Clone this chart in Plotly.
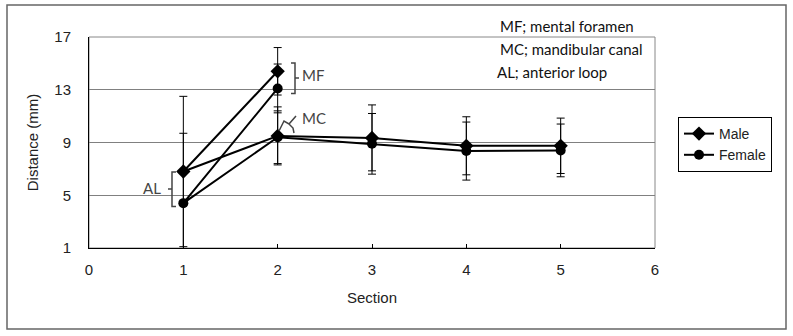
import plotly.graph_objects as go

# ---------------- data ----------------
point_sections = [2, 1, 2, 3, 4, 5]          # polyline order: MF(2) -> AL(1) -> MC(2) -> 3 -> 4 -> 5
point_sites = ["MF", "AL", "MC", "MC", "MC", "MC"]
male_mean = [14.4, 6.8, 9.5, 9.35, 8.75, 8.75]
male_sd = [1.8, 5.7, 2.2, 2.5, 2.2, 2.1]
female_mean = [13.1, 4.4, 9.4, 8.9, 8.35, 8.4]
female_sd = [1.85, 5.3, 2.0, 2.3, 2.2, 2.0]
x_ticks = [0, 1, 2, 3, 4, 5, 6]
y_ticks = [1, 5, 9, 13, 17]
series_names = ["Male", "Female"]
note_lines = ["MF; mental foramen", "MC; mandibular canal", "AL; anterior loop"]

# ---------------- geometry helpers (pixel -> paper) ----------------
W, H = 793, 336
L, R, T, B = 89, 138, 37, 88
PW, PH = W - L - R, H - T - B


def px(x):
    return (x - L) / PW


def py(y):
    return (H - B - y) / PH


def path(points_list):
    s = ""
    for pts in points_list:
        s += "M " + " L ".join(f"{px(a):.5f},{py(b):.5f}" for a, b in pts) + " "
    return s.strip()


AX_FONT = dict(family="Liberation Sans, Arial, sans-serif", size=15, color="#222")
NOTE_FONT = dict(family="Lato, Carlito, sans-serif", size=15, color="#111")
GRAY = "#444"

fig = go.Figure()
fig.add_trace(go.Scatter(
    x=point_sections, y=male_mean, name=series_names[0], mode="lines+markers",
    customdata=point_sites,
    line=dict(color="black", width=2),
    marker=dict(symbol="diamond", size=11, color="black"),
    error_y=dict(type="data", array=male_sd, visible=True, color="black", thickness=1, width=4),
))
fig.add_trace(go.Scatter(
    x=point_sections, y=female_mean, name=series_names[1], mode="lines+markers",
    customdata=point_sites,
    line=dict(color="black", width=2),
    marker=dict(symbol="circle", size=10, color="black"),
    error_y=dict(type="data", array=female_sd, visible=True, color="black", thickness=1, width=4),
))

shapes = [
    # outer chart border
    dict(type="rect", xref="paper", yref="paper", x0=px(7), x1=px(786), y0=py(329), y1=py(5),
         line=dict(color="#666", width=1.5), layer="below"),
    # plot area border
    dict(type="rect", xref="paper", yref="paper", x0=0, x1=1, y0=0, y1=1,
         line=dict(color="#888", width=1), layer="below"),
    # MF bracket
    dict(type="path", xref="paper", yref="paper",
         path=path([[(291, 63), (295, 63), (295, 93.5), (291, 93.5)], [(295, 78), (299, 78)]]),
         line=dict(color=GRAY, width=1.5)),
    # AL bracket
    dict(type="path", xref="paper", yref="paper",
         path=path([[(176, 172), (172, 172), (172, 206.5), (176, 206.5)], [(172, 189), (168, 189)]]),
         line=dict(color=GRAY, width=1.5)),
    # MC brace
    dict(type="path", xref="paper", yref="paper",
         path=path([[(279, 131), (284, 121), (289, 124), (296, 116)], [(289, 124), (293, 128), (294, 133)]]),
         line=dict(color=GRAY, width=1.5)),
]

annotations = [
    dict(text=note_lines[0], x=px(498), y=py(26), xref="paper", yref="paper",
         xanchor="left", yanchor="middle", showarrow=False, font=NOTE_FONT),
    dict(text=note_lines[1], x=px(498), y=py(49), xref="paper", yref="paper",
         xanchor="left", yanchor="middle", showarrow=False, font=NOTE_FONT),
    dict(text=note_lines[2], x=px(495), y=py(72), xref="paper", yref="paper",
         xanchor="left", yanchor="middle", showarrow=False, font=NOTE_FONT),
    dict(text="MF", x=px(300), y=py(75), xref="paper", yref="paper",
         xanchor="left", yanchor="middle", showarrow=False,
         font=dict(family="Lato, sans-serif", size=15, color=GRAY)),
    dict(text="MC", x=px(300), y=py(118), xref="paper", yref="paper",
         xanchor="left", yanchor="middle", showarrow=False,
         font=dict(family="Lato, sans-serif", size=15, color=GRAY)),
    dict(text="AL", x=px(163), y=py(188), xref="paper", yref="paper",
         xanchor="right", yanchor="middle", showarrow=False,
         font=dict(family="Lato, sans-serif", size=15, color=GRAY)),
]

fig.update_layout(
    width=W, height=H,
    margin=dict(l=L, r=R, t=T, b=B, pad=0),
    paper_bgcolor="white", plot_bgcolor="white",
    font=AX_FONT,
    showlegend=True,
    hovermode=False,
    legend=dict(x=px(678), y=py(117), xanchor="left", yanchor="top",
                bordercolor="black", borderwidth=1, bgcolor="white",
                font=dict(family="Liberation Sans, Arial, sans-serif", size=14, color="#222"),
                tracegroupgap=0, itemwidth=30),
    shapes=shapes,
    annotations=annotations,
    xaxis=dict(range=[0, 6], tickvals=x_ticks, ticktext=[str(v) for v in x_ticks],
               showgrid=False, zeroline=False, showline=True, linecolor="black", linewidth=1,
               ticks="inside", ticklen=4, tickcolor="black", ticklabelstandoff=8,
               automargin=False,
               title=dict(text="Section", font=AX_FONT, standoff=15)),
    yaxis=dict(range=[1, 17], tickvals=y_ticks, ticktext=[str(v) for v in y_ticks],
               showgrid=True, gridcolor="#808080", gridwidth=1, zeroline=False,
               showline=True, linecolor="black", linewidth=1, ticks="",
               ticklabelstandoff=14, automargin=False,
               title=dict(text="Distance (mm)", font=AX_FONT, standoff=12)),
)

fig.write_html("out.html", config={"displayModeBar": False},
               post_script="document.body.style.margin='0px';document.body.style.overflow='hidden';")
